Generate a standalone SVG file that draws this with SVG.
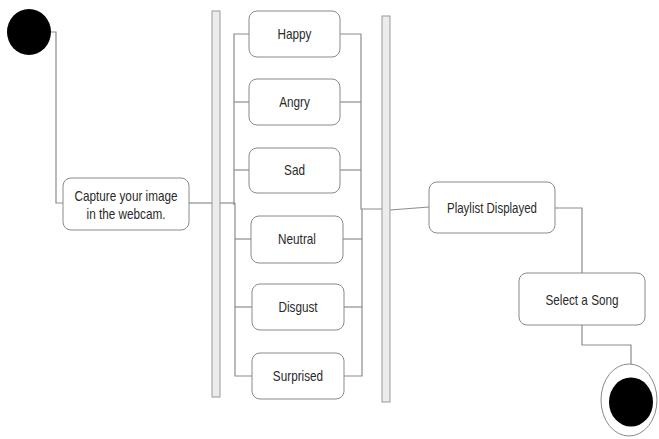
<svg xmlns="http://www.w3.org/2000/svg" width="659" height="439" viewBox="0 0 659 439">
<style>
.node rect.box{fill:#fff;stroke:#8a8a8a;stroke-width:1}
.bar{fill:#ececec;stroke:#9a9a9a;stroke-width:1}
.lbl{font-family:"Liberation Sans",Arial,sans-serif;font-size:14px;fill:#2a2a2a;text-anchor:middle}
#connectors path{fill:none;stroke:#8c8c8c;stroke-width:1.2}
</style>
<rect width="659" height="439" fill="#fff"/>
<g id="connectors">
<path d="M51 32 H56 V203 H63"/>
<path d="M189 203 H212"/>
<path d="M220 203 H235"/>
<path d="M249 34 H234 V205"/>
<path d="M249 102 H234"/>
<path d="M249 170 H234"/>
<path d="M235 203 V376 H252"/>
<path d="M251 239 H235"/>
<path d="M252 307 H235"/>
<path d="M340 34 H361 V209 H382"/>
<path d="M340 102 H361"/>
<path d="M340 170 H361"/>
<path d="M362 209 V376 H344"/>
<path d="M343 239 H362"/>
<path d="M344 307 H362"/>
<path d="M390 210 L429 207"/>
<path d="M555 208 H582 V273"/>
<path d="M582 325 V345 H631 V364"/>
</g>
<g id="start"><ellipse cx="29" cy="32" rx="22" ry="23" fill="#000"/></g>
<g id="fork"><rect class="bar" x="212" y="11" width="8" height="386"/></g>
<g id="join"><rect class="bar" x="382" y="16" width="8" height="386"/></g>
<g id="capture" class="node"><rect class="box" x="63" y="178" width="126" height="52" rx="8"/>
<text class="lbl" transform="translate(126 201) scale(0.84 1)">Capture your image</text>
<text class="lbl" transform="translate(126 219) scale(0.84 1)">in the webcam.</text></g>
<g id="happy" class="node"><rect class="box" x="249" y="11" width="91" height="46" rx="8"/>
<text class="lbl" transform="translate(294.5 39) scale(0.84 1)">Happy</text></g>
<g id="angry" class="node"><rect class="box" x="249" y="79" width="91" height="46" rx="8"/>
<text class="lbl" transform="translate(294.5 107) scale(0.84 1)">Angry</text></g>
<g id="sad" class="node"><rect class="box" x="249" y="148" width="91" height="45" rx="8"/>
<text class="lbl" transform="translate(294.5 175) scale(0.84 1)">Sad</text></g>
<g id="neutral" class="node"><rect class="box" x="251" y="216" width="92" height="47" rx="8"/>
<text class="lbl" transform="translate(297 244) scale(0.84 1)">Neutral</text></g>
<g id="disgust" class="node"><rect class="box" x="252" y="284" width="92" height="46" rx="8"/>
<text class="lbl" transform="translate(298 312) scale(0.84 1)">Disgust</text></g>
<g id="surprised" class="node"><rect class="box" x="252" y="353" width="92" height="46" rx="8"/>
<text class="lbl" transform="translate(298 381) scale(0.84 1)">Surprised</text></g>
<g id="playlist" class="node"><rect class="box" x="429" y="182" width="126" height="51" rx="8"/>
<text class="lbl" transform="translate(492 213) scale(0.82 1)">Playlist Displayed</text></g>
<g id="select" class="node"><rect class="box" x="519" y="273" width="126" height="52" rx="8"/>
<text class="lbl" transform="translate(582 305) scale(0.84 1)">Select a Song</text></g>
<g id="end"><ellipse cx="629" cy="400" rx="28" ry="36" fill="#fff" stroke="#8a8a8a" stroke-width="1"/>
<ellipse cx="631" cy="402" rx="22" ry="24.5" fill="#000"/></g>
</svg>
